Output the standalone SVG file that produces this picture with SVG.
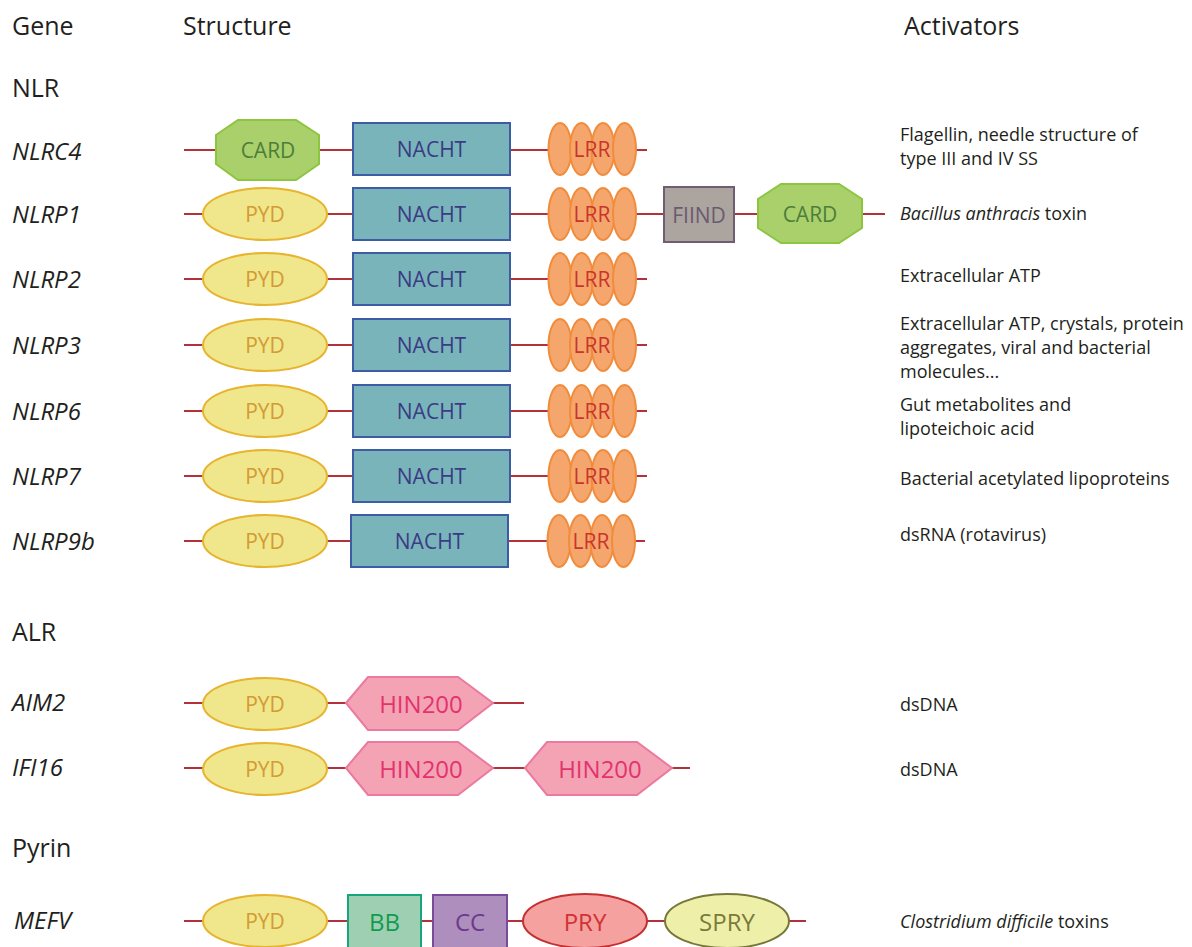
<svg xmlns="http://www.w3.org/2000/svg" width="1192" height="947" viewBox="0 0 1192 947">
<style>
text{font-family:"Open Sans","Liberation Sans",sans-serif;}
.hd{font-size:25px;fill:#231f20;}
.gn{font-size:24px;font-style:italic;fill:#231f20;}
.act{font-size:18px;fill:#231f20;}
.ln{stroke:#b3323a;stroke-width:2;fill:none;}
.lbl{font-size:21px;text-anchor:middle;dominant-baseline:central;}
.big{font-size:24px;}
.card{fill:#a9d06b;stroke:#8cc63f;stroke-width:2;}
.cardt{fill:#4e7d3a;}
.nacht{fill:#78b4ba;stroke:#3d5ca6;stroke-width:2;}
.nachtt{fill:#3b3b85;}
.lrr{fill:#f5a66c;stroke:#f08c3c;stroke-width:2;}
.lrrt{fill:#c9352c;}
.pyd{fill:#f0e68b;stroke:#e7b42f;stroke-width:2;}
.pydt{fill:#d39b33;}
.fiind{fill:#aba49f;stroke:#6f5d71;stroke-width:2;}
.fiindt{fill:#6c5a70;}
.hin{fill:#f4a3b5;stroke:#ec79a0;stroke-width:2;}
.hint{fill:#e3336c;}
.bb{fill:#9fcfb3;stroke:#15a67b;stroke-width:2;}
.bbt{fill:#119b4f;}
.cc{fill:#ae8ebc;stroke:#7a4a9b;stroke-width:2;}
.cct{fill:#6b3a8c;}
.pry{fill:#f4a1a0;stroke:#c52f2f;stroke-width:2;}
.pryt{fill:#d13232;}
.spry{fill:#eef0a9;stroke:#77773a;stroke-width:2;}
.spryt{fill:#7a7a3a;}
</style>
<defs>
<g id="lrr4">
<ellipse class="lrr" cx="0" cy="0" rx="11.5" ry="26"/>
<ellipse class="lrr" cx="21.5" cy="0" rx="11.5" ry="26"/>
<ellipse class="lrr" cx="43" cy="0" rx="11.5" ry="26"/>
<ellipse class="lrr" cx="64.5" cy="0" rx="11.5" ry="26"/>
<text class="lbl lrrt" x="32" y="0">LRR</text>
</g>
<g id="pyd">
<ellipse class="pyd" cx="0" cy="0" rx="62" ry="26"/>
<text class="lbl pydt" x="0" y="0">PYD</text>
</g>
<g id="nacht">
<rect class="nacht" x="0" y="-26" width="157" height="52"/>
<text class="lbl nachtt" x="78.5" y="0">NACHT</text>
</g>
<g id="hin">
<polygon class="hin" points="0,0 22,-26 112,-26 147,0 112,27 22,27"/>
<text class="lbl big hint" x="75" y="0">HIN200</text>
</g>
</defs>

<g id="headers">
<text class="hd" x="12" y="35">Gene</text>
<text class="hd" x="183" y="35">Structure</text>
<text class="hd" x="904" y="35">Activators</text>
<text class="hd" x="12" y="97">NLR</text>
<text class="hd" x="12" y="641">ALR</text>
<text class="hd" x="12" y="857">Pyrin</text>
</g>

<g id="connectors">
<line class="ln" x1="184" y1="150" x2="647" y2="150"/>
<line class="ln" x1="184" y1="214" x2="885" y2="214"/>
<line class="ln" x1="184" y1="279" x2="647" y2="279"/>
<line class="ln" x1="184" y1="345" x2="647" y2="345"/>
<line class="ln" x1="184" y1="411" x2="647" y2="411"/>
<line class="ln" x1="184" y1="476" x2="647" y2="476"/>
<line class="ln" x1="184" y1="541" x2="645" y2="541"/>
<line class="ln" x1="184" y1="703" x2="524" y2="703"/>
<line class="ln" x1="184" y1="768" x2="690" y2="768"/>
<line class="ln" x1="184" y1="921" x2="806" y2="921"/>
</g>

<g id="row-NLRC4">
<text class="gn" x="12" y="160">NLRC4</text>
<g id="NLRC4-CARD">
<polygon class="card" points="238,120 296,120 319,135 319,164 296,180 238,180 216,164 216,135"/>
<text class="lbl cardt" x="268" y="150">CARD</text>
</g>
<use id="NLRC4-NACHT" href="#nacht" x="353" y="149"/>
<use id="NLRC4-LRR" href="#lrr4" x="560" y="149"/>
<text class="act" x="900" y="141">Flagellin, needle structure of</text>
<text class="act" x="900" y="165">type III and IV SS</text>
</g>

<g id="row-NLRP1">
<text class="gn" x="12" y="223">NLRP1</text>
<use id="NLRP1-PYD" href="#pyd" x="265" y="214"/>
<use id="NLRP1-NACHT" href="#nacht" x="353" y="214"/>
<use id="NLRP1-LRR" href="#lrr4" x="560" y="214"/>
<g id="NLRP1-FIIND">
<rect class="fiind" x="664" y="187" width="70" height="55"/>
<text class="lbl fiindt" x="699" y="215">FIIND</text>
</g>
<g id="NLRP1-CARD">
<polygon class="card" points="781,184 839,184 862,199 862,228 839,243 781,243 758,228 758,199"/>
<text class="lbl cardt" x="810" y="214">CARD</text>
</g>
<text class="act" x="900" y="220"><tspan font-style="italic">Bacillus anthracis</tspan> toxin</text>
</g>

<g id="row-NLRP2">
<text class="gn" x="12" y="288">NLRP2</text>
<use id="NLRP2-PYD" href="#pyd" x="265" y="279"/>
<use id="NLRP2-NACHT" href="#nacht" x="353" y="279"/>
<use id="NLRP2-LRR" href="#lrr4" x="560" y="279"/>
<text class="act" x="900" y="282">Extracellular ATP</text>
</g>

<g id="row-NLRP3">
<text class="gn" x="12" y="354">NLRP3</text>
<use id="NLRP3-PYD" href="#pyd" x="265" y="345"/>
<use id="NLRP3-NACHT" href="#nacht" x="353" y="345"/>
<use id="NLRP3-LRR" href="#lrr4" x="560" y="345"/>
<text class="act" x="900" y="330">Extracellular ATP, crystals, protein</text>
<text class="act" x="900" y="354">aggregates, viral and bacterial</text>
<text class="act" x="900" y="378">molecules...</text>
</g>

<g id="row-NLRP6">
<text class="gn" x="12" y="420">NLRP6</text>
<use id="NLRP6-PYD" href="#pyd" x="265" y="411"/>
<use id="NLRP6-NACHT" href="#nacht" x="353" y="411"/>
<use id="NLRP6-LRR" href="#lrr4" x="560" y="411"/>
<text class="act" x="900" y="411">Gut metabolites and</text>
<text class="act" x="900" y="435">lipoteichoic acid</text>
</g>

<g id="row-NLRP7">
<text class="gn" x="12" y="485">NLRP7</text>
<use id="NLRP7-PYD" href="#pyd" x="265" y="476"/>
<use id="NLRP7-NACHT" href="#nacht" x="353" y="476"/>
<use id="NLRP7-LRR" href="#lrr4" x="560" y="476"/>
<text class="act" x="900" y="485">Bacterial acetylated lipoproteins</text>
</g>

<g id="row-NLRP9b">
<text class="gn" x="12" y="550">NLRP9b</text>
<use id="NLRP9b-PYD" href="#pyd" x="265" y="541"/>
<use id="NLRP9b-NACHT" href="#nacht" x="351" y="541"/>
<use id="NLRP9b-LRR" href="#lrr4" x="559" y="541"/>
<text class="act" x="900" y="541">dsRNA (rotavirus)</text>
</g>

<g id="row-AIM2">
<text class="gn" x="12" y="711">AIM2</text>
<use id="AIM2-PYD" href="#pyd" x="265" y="704"/>
<use id="AIM2-HIN200" href="#hin" x="346" y="703"/>
<text class="act" x="900" y="711">dsDNA</text>
</g>

<g id="row-IFI16">
<text class="gn" x="12" y="776">IFI16</text>
<use id="IFI16-PYD" href="#pyd" x="265" y="769"/>
<use id="IFI16-HIN200a" href="#hin" x="346" y="768"/>
<use id="IFI16-HIN200b" href="#hin" x="525" y="768"/>
<text class="act" x="900" y="776">dsDNA</text>
</g>

<g id="row-MEFV">
<text class="gn" x="14" y="929">MEFV</text>
<use id="MEFV-PYD" href="#pyd" x="265" y="921"/>
<g id="MEFV-BB">
<rect class="bb" x="348" y="895" width="73" height="56"/>
<text class="lbl big bbt" x="384.5" y="921">BB</text>
</g>
<g id="MEFV-CC">
<rect class="cc" x="433" y="895" width="74" height="56"/>
<text class="lbl big cct" x="470" y="921">CC</text>
</g>
<g id="MEFV-PRY">
<ellipse class="pry" cx="585" cy="921" rx="62" ry="27"/>
<text class="lbl big pryt" x="585" y="921">PRY</text>
</g>
<g id="MEFV-SPRY">
<ellipse class="spry" cx="727" cy="921" rx="62" ry="27"/>
<text class="lbl big spryt" x="727" y="921">SPRY</text>
</g>
<text class="act" x="900" y="928"><tspan font-style="italic">Clostridium difficile</tspan> toxins</text>
</g>
</svg>
